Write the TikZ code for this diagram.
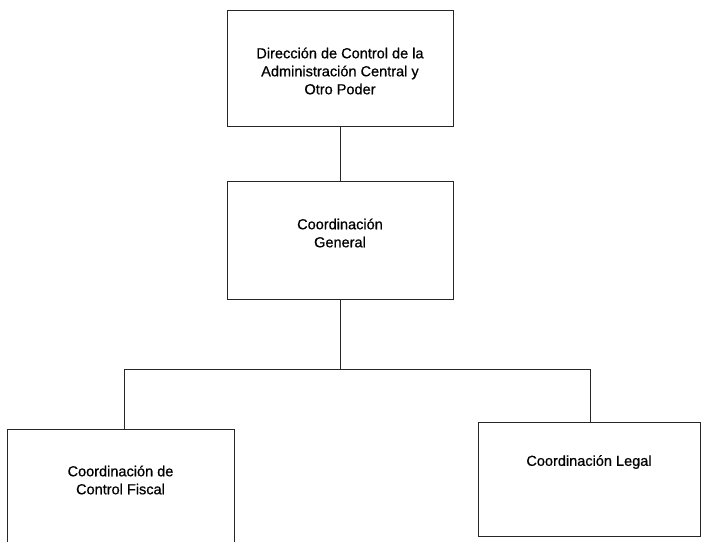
\documentclass[tikz,border=0pt]{standalone}
\usepackage{fontspec}
\setmainfont{Liberation Sans}
\newfontfamily\chartfont{Liberation Sans}[BoldFont={Liberation Sans}, BoldFeatures={FakeBold=0.6}]
\usetikzlibrary{positioning, calc}

\tikzset{
  unitbox/.style={draw=black!85, line width=0.75pt, rectangle, inner sep=0pt,
    minimum width=169.5pt, minimum height=87.75pt},
  unittxt/.style={align=center, inner sep=0pt,
    font=\chartfont\bfseries\fontsize{10.9pt}{13.5pt}\selectfont},
  link/.style={draw=black!85, line width=0.75pt}
}

\begin{document}
\begin{tikzpicture}[x=0.75pt, y=-0.75pt]
      \clip (0,0) rectangle (701,542);
      \fill[white] (0,0) rectangle (701,542);

      % Boxes of the chart
      \node[unitbox, minimum height=87pt] (dir) at (340,69) {};
      \node[unitbox] (gen) at (340,240.5) {};
      \node[unitbox, minimum width=170.25pt] (fiscal) at (120.5,488) {};
      \node[unitbox, minimum width=166.5pt, minimum height=85.5pt] (legal) at (589,479) {};

      % Texts
      \node[unittxt] (dirtxt) at (340,71) {Dirección de Control de la\\Administración Central y\\Otro Poder};
      \node[unittxt] (gentxt) at (340,233) {Coordinación\\General};
      \node[unittxt] (fiscaltxt) at (120.5,480) {Coordinación de\\Control Fiscal};
      \node[unittxt] (legaltxt) at (589,462) {Coordinación Legal};

      % Connectors
      \coordinate (bus) at (340,369);
      \coordinate (busl) at (124,369);
      \coordinate (busr) at (590,369);
      \draw[link] (dir.south) -- (gen.north);
      \draw[link] (gen.south) -- (bus);
      \draw[link] (busl) -- (busr);
      \draw[link] (busl) -- (busl |- fiscal.north);
      \draw[link] (busr) -- (busr |- legal.north);
\end{tikzpicture}
\end{document}
